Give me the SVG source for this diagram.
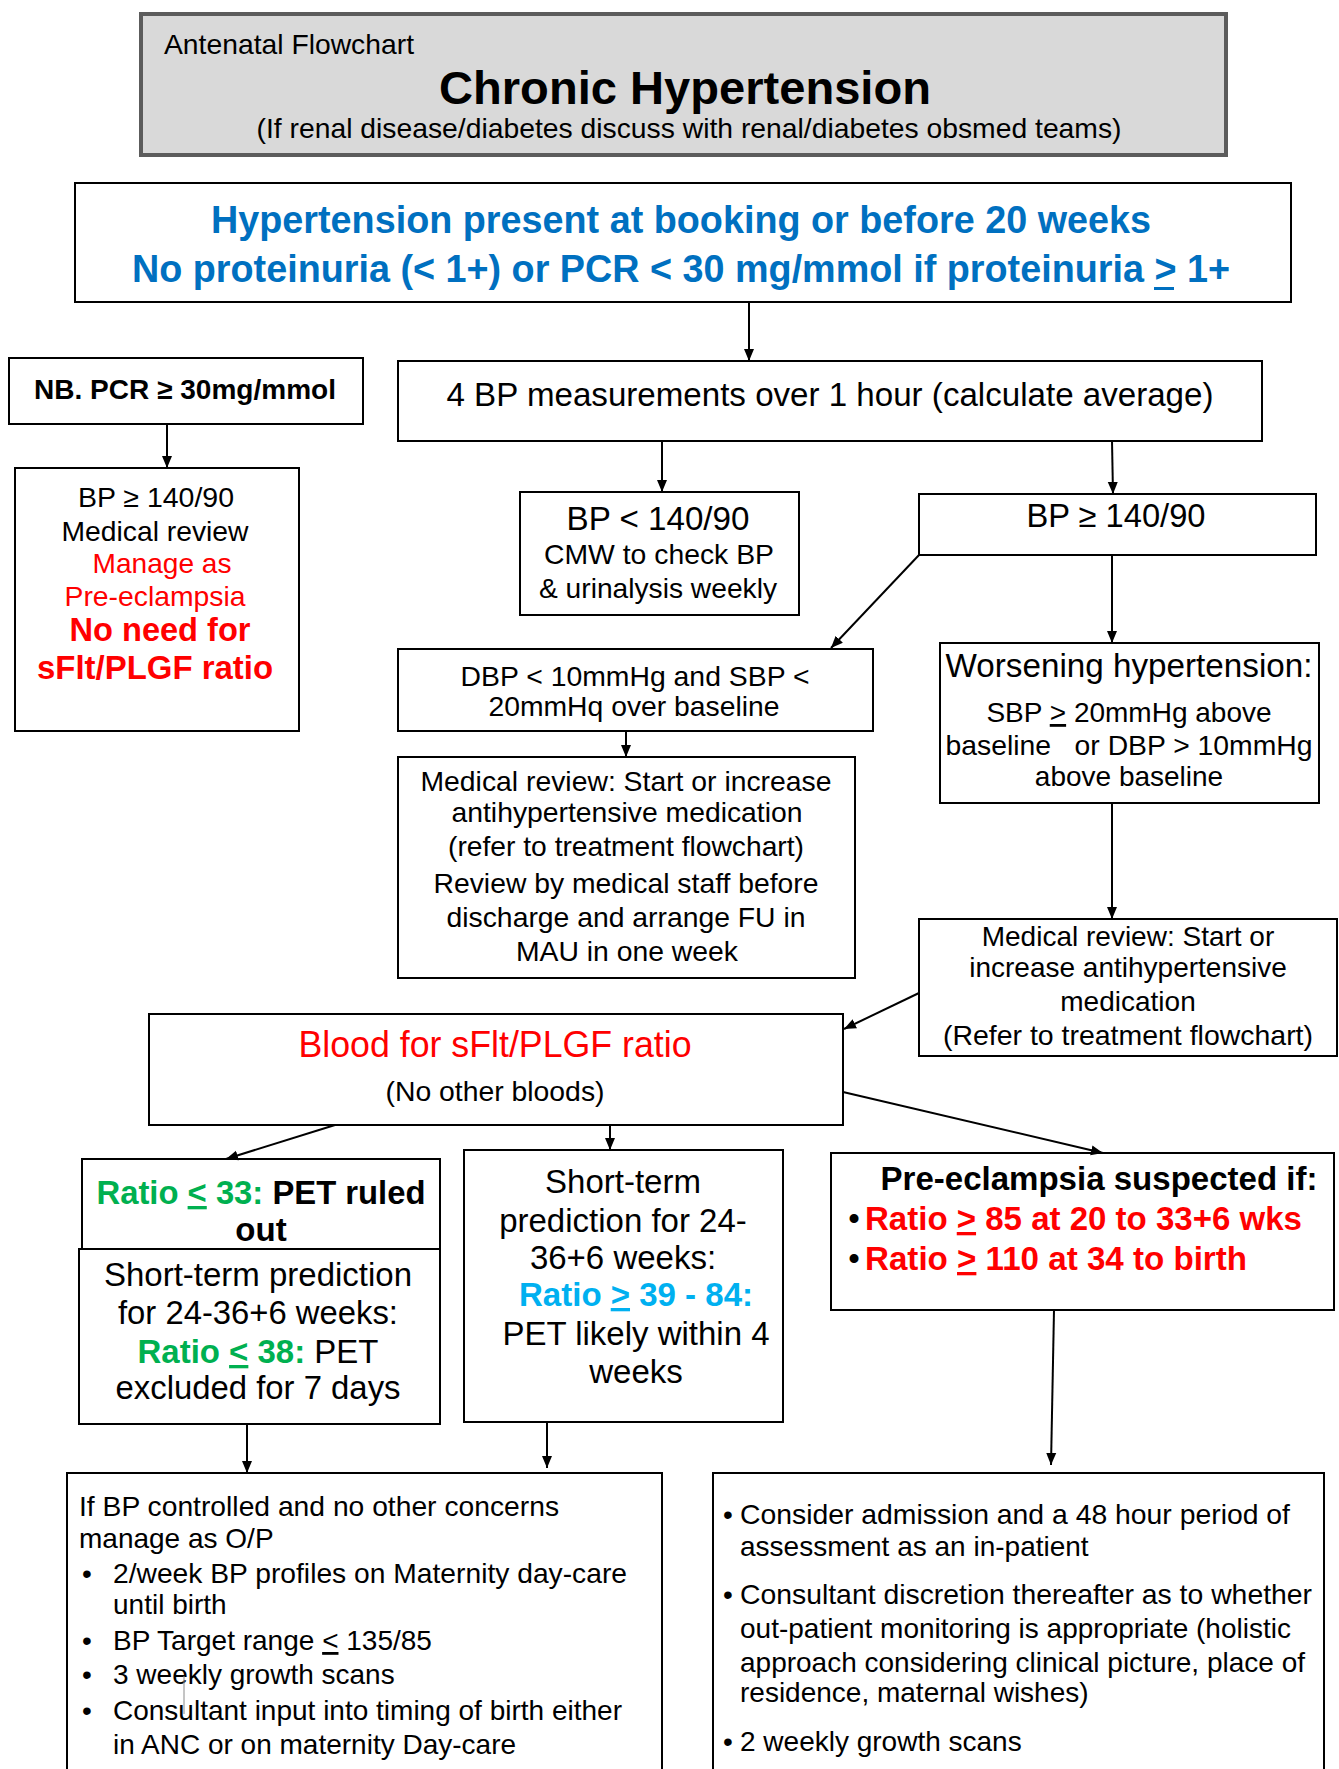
<svg xmlns="http://www.w3.org/2000/svg" width="1339" height="1769" viewBox="0 0 1339 1769">
  <style>
    .box { fill: #ffffff; stroke: #000000; stroke-width: 2; }
    .hdr { fill: #d9d9d9; stroke: #5c5c5c; stroke-width: 4; }
    text { font-family: "Liberation Sans", Arial, sans-serif; fill: #000000; font-size: 28px; }
    .c { text-anchor: middle; }
    .b { font-weight: bold; }
    .s33 { font-size: 33px; }
    .red { fill: #ff0000; }
    .blue { fill: #0070c0; }
    .green { fill: #00b050; }
    .cyan { fill: #00b0f0; }
    .u { text-decoration: underline; }
    #connectors line { stroke: #000000; stroke-width: 2; fill: none; marker-end: url(#ah); }
  </style>
  <defs>
    <marker id="ah" markerUnits="userSpaceOnUse" markerWidth="12" markerHeight="12" viewBox="0 0 12 10" refX="12" refY="5" orient="auto">
      <path d="M0,0 L12,5 L0,10 z" fill="#000000"/>
    </marker>
  </defs>

  <rect width="1339" height="1769" fill="#ffffff"/>

  <!-- Title block -->
  <g id="header">
    <rect class="hdr" x="141" y="14" width="1085" height="141"/>
    <text x="164" y="54" textLength="250" lengthAdjust="spacingAndGlyphs">Antenatal Flowchart</text>
    <text class="c b" x="685" y="104" style="font-size:47px" textLength="492" lengthAdjust="spacingAndGlyphs">Chronic Hypertension</text>
    <text class="c" x="689" y="138" textLength="865" lengthAdjust="spacingAndGlyphs">(If renal disease/diabetes discuss with renal/diabetes obsmed teams)</text>
  </g>

  <g id="entry">
    <rect class="box" x="75" y="183" width="1216" height="119"/>
    <text class="c b blue" x="681" y="233" style="font-size:38px" textLength="940" lengthAdjust="spacingAndGlyphs">Hypertension present at booking or before 20 weeks</text>
    <text class="c b blue" x="681" y="282" style="font-size:38px" textLength="1098" lengthAdjust="spacingAndGlyphs">No proteinuria (&lt; 1+) or PCR &lt; 30 mg/mmol if proteinuria &gt; 1+</text>
    <!-- underline beneath the ">" sign -->
    <rect x="1154" y="287" width="20" height="3" fill="#0070c0"/>
  </g>

  <g id="pcr-note">
    <rect class="box" x="9" y="358" width="354" height="66"/>
    <text class="c b" x="185" y="399" textLength="302" lengthAdjust="spacingAndGlyphs">NB. PCR ≥ 30mg/mmol</text>
  </g>

  <g id="pcr-manage">
    <rect class="box" x="15" y="468" width="284" height="263"/>
    <text class="c" x="156" y="507" textLength="156" lengthAdjust="spacingAndGlyphs">BP ≥ 140/90</text>
    <text class="c" x="155" y="541" textLength="187" lengthAdjust="spacingAndGlyphs">Medical review</text>
    <text class="c red" x="162" y="573" textLength="139" lengthAdjust="spacingAndGlyphs">Manage as</text>
    <text class="c red" x="155" y="606" textLength="181" lengthAdjust="spacingAndGlyphs">Pre-eclampsia</text>
    <text class="c b red s33" x="160" y="641" textLength="181" lengthAdjust="spacingAndGlyphs">No need for</text>
    <text class="c b red s33" x="155" y="679" textLength="236" lengthAdjust="spacingAndGlyphs">sFlt/PLGF ratio</text>
  </g>

  <g id="bp-measure">
    <rect class="box" x="398" y="361" width="864" height="80"/>
    <text class="c s33" x="830" y="406" textLength="767" lengthAdjust="spacingAndGlyphs">4 BP measurements over 1 hour (calculate average)</text>
  </g>

  <g id="bp-normal">
    <rect class="box" x="520" y="492" width="279" height="123"/>
    <text class="c s33" x="658" y="530" textLength="183" lengthAdjust="spacingAndGlyphs">BP &lt; 140/90</text>
    <text class="c" x="659" y="564" textLength="230" lengthAdjust="spacingAndGlyphs">CMW to check BP</text>
    <text class="c" x="658" y="598" textLength="238" lengthAdjust="spacingAndGlyphs">&amp; urinalysis weekly</text>
  </g>

  <g id="bp-high">
    <rect class="box" x="919" y="494" width="397" height="61"/>
    <text class="c s33" x="1116" y="527" textLength="179" lengthAdjust="spacingAndGlyphs">BP ≥ 140/90</text>
  </g>

  <g id="stable-rise">
    <rect class="box" x="398" y="649" width="475" height="82"/>
    <text class="c" x="635" y="686" textLength="349" lengthAdjust="spacingAndGlyphs">DBP &lt; 10mmHg and SBP &lt;</text>
    <text class="c" x="634" y="716" textLength="291" lengthAdjust="spacingAndGlyphs">20mmHq over baseline</text>
  </g>

  <g id="review-left">
    <rect class="box" x="398" y="757" width="457" height="221"/>
    <text class="c" x="626" y="791" textLength="411" lengthAdjust="spacingAndGlyphs">Medical review: Start or increase</text>
    <text class="c" x="627" y="822" textLength="351" lengthAdjust="spacingAndGlyphs">antihypertensive medication</text>
    <text class="c" x="626" y="856" textLength="356" lengthAdjust="spacingAndGlyphs">(refer to treatment flowchart)</text>
    <text class="c" x="626" y="893" textLength="385" lengthAdjust="spacingAndGlyphs">Review by medical staff before</text>
    <text class="c" x="626" y="927" textLength="359" lengthAdjust="spacingAndGlyphs">discharge and arrange FU in</text>
    <text class="c" x="627" y="961" textLength="222" lengthAdjust="spacingAndGlyphs">MAU in one week</text>
  </g>

  <g id="worsening">
    <rect class="box" x="940" y="643" width="379" height="160"/>
    <text class="c s33" x="1129" y="677" textLength="367" lengthAdjust="spacingAndGlyphs">Worsening hypertension:</text>
    <text class="c" x="1129" y="722">SBP <tspan class="u">&gt;</tspan> 20mmHg above</text>
    <text class="c" x="1129" y="755" xml:space="preserve" textLength="367" lengthAdjust="spacingAndGlyphs">baseline   or DBP &gt; 10mmHg</text>
    <text class="c" x="1129" y="786">above baseline</text>
  </g>

  <g id="review-right">
    <rect class="box" x="919" y="919" width="418" height="137"/>
    <text class="c" x="1128" y="946">Medical review: Start or</text>
    <text class="c" x="1128" y="977">increase antihypertensive</text>
    <text class="c" x="1128" y="1011">medication</text>
    <text class="c" x="1128" y="1045" textLength="370" lengthAdjust="spacingAndGlyphs">(Refer to treatment flowchart)</text>
  </g>

  <g id="blood-test">
    <rect class="box" x="149" y="1014" width="694" height="111"/>
    <text class="c red" x="495" y="1057" style="font-size:36px" textLength="393" lengthAdjust="spacingAndGlyphs">Blood for sFlt/PLGF ratio</text>
    <text class="c" x="495" y="1101" textLength="219" lengthAdjust="spacingAndGlyphs">(No other bloods)</text>
  </g>

  <g id="ruled-out">
    <rect class="box" x="82" y="1159" width="358" height="90"/>
    <text class="c b s33" x="261" y="1204" textLength="329" lengthAdjust="spacingAndGlyphs"><tspan class="green">Ratio <tspan class="u">&lt;</tspan> 33:</tspan> PET ruled</text>
    <text class="c b s33" x="261" y="1241">out</text>
  </g>

  <g id="excluded">
    <rect class="box" x="79" y="1249" width="361" height="175"/>
    <text class="c s33" x="258" y="1286" textLength="308" lengthAdjust="spacingAndGlyphs">Short-term prediction</text>
    <text class="c s33" x="258" y="1324" textLength="280" lengthAdjust="spacingAndGlyphs">for 24-36+6 weeks:</text>
    <text class="c s33" x="258" y="1363" textLength="241" lengthAdjust="spacingAndGlyphs"><tspan class="green b">Ratio <tspan class="u">&lt;</tspan> 38:</tspan> PET</text>
    <text class="c s33" x="258" y="1399" textLength="285" lengthAdjust="spacingAndGlyphs">excluded for 7 days</text>
  </g>

  <g id="likely">
    <rect class="box" x="464" y="1150" width="319" height="272"/>
    <text class="c s33" x="623" y="1193">Short-term</text>
    <text class="c s33" x="623" y="1232">prediction for 24-</text>
    <text class="c s33" x="623" y="1269">36+6 weeks:</text>
    <text class="c s33 cyan b" x="636" y="1306" textLength="234" lengthAdjust="spacingAndGlyphs">Ratio <tspan class="u">&gt;</tspan> 39 - 84:</text>
    <text class="c s33" x="636" y="1345">PET likely within 4</text>
    <text class="c s33" x="636" y="1383">weeks</text>
  </g>

  <g id="suspected">
    <rect class="box" x="831" y="1153" width="503" height="157"/>
    <text class="c b s33" x="1099" y="1190" textLength="437" lengthAdjust="spacingAndGlyphs">Pre-eclampsia suspected if:</text>
    <text class="c s33" x="854" y="1230">•</text>
    <text class="b s33 red" x="865" y="1230" textLength="437" lengthAdjust="spacingAndGlyphs">Ratio <tspan class="u">&gt;</tspan> 85 at 20 to 33+6 wks</text>
    <text class="c s33" x="854" y="1270">•</text>
    <text class="b s33 red" x="865" y="1270" textLength="382" lengthAdjust="spacingAndGlyphs">Ratio <tspan class="u">&gt;</tspan> 110 at 34 to birth</text>
  </g>

  <g id="outpatient">
    <rect class="box" x="67" y="1473" width="595" height="320"/>
    <text x="79" y="1516" textLength="480" lengthAdjust="spacingAndGlyphs">If BP controlled and no other concerns</text>
    <text x="79" y="1548">manage as O/P</text>
    <text class="c" x="87" y="1583">•</text>
    <text x="113" y="1583" textLength="514" lengthAdjust="spacingAndGlyphs">2/week BP profiles on Maternity day-care</text>
    <text x="113" y="1614">until birth</text>
    <text class="c" x="87" y="1650">•</text>
    <text x="113" y="1650">BP Target range <tspan class="u">&lt;</tspan> 135/85</text>
    <text class="c" x="87" y="1684">•</text>
    <text x="113" y="1684">3 weekly growth scans</text>
    <text class="c" x="87" y="1720">•</text>
    <text x="113" y="1720">Consultant input into timing of birth either</text>
    <text x="113" y="1754">in ANC or on maternity Day-care</text>
    <line x1="184" y1="1676" x2="184" y2="1714" stroke="#8a8a8a" stroke-width="1"/>
  </g>

  <g id="inpatient">
    <rect class="box" x="713" y="1473" width="611" height="320"/>
    <text class="c" x="728" y="1524">•</text>
    <text x="740" y="1524" textLength="550" lengthAdjust="spacingAndGlyphs">Consider admission and a 48 hour period of</text>
    <text x="740" y="1556">assessment as an in-patient</text>
    <text class="c" x="728" y="1604">•</text>
    <text x="740" y="1604" textLength="572" lengthAdjust="spacingAndGlyphs">Consultant discretion thereafter as to whether</text>
    <text x="740" y="1638">out-patient monitoring is appropriate (holistic</text>
    <text x="740" y="1672">approach considering clinical picture, place of</text>
    <text x="740" y="1702">residence, maternal wishes)</text>
    <text class="c" x="728" y="1751">•</text>
    <text x="740" y="1751">2 weekly growth scans</text>
  </g>

  <g id="connectors">
    <line x1="749" y1="302" x2="749" y2="361"/>
    <line x1="167" y1="424" x2="167" y2="468"/>
    <line x1="662" y1="441" x2="662" y2="492"/>
    <line x1="1112" y1="441" x2="1113" y2="494"/>
    <line x1="919" y1="555" x2="831" y2="648"/>
    <line x1="1112" y1="555" x2="1112" y2="643"/>
    <line x1="626" y1="731" x2="626" y2="757"/>
    <line x1="1112" y1="803" x2="1112" y2="919"/>
    <line x1="919" y1="993" x2="844" y2="1029"/>
    <line x1="335" y1="1125" x2="226" y2="1159"/>
    <line x1="610" y1="1125" x2="610" y2="1150"/>
    <line x1="843" y1="1092" x2="1103" y2="1153"/>
    <line x1="247" y1="1424" x2="247" y2="1473"/>
    <line x1="547" y1="1422" x2="547" y2="1468"/>
    <line x1="1054" y1="1310" x2="1051" y2="1465"/>
  </g>
</svg>
